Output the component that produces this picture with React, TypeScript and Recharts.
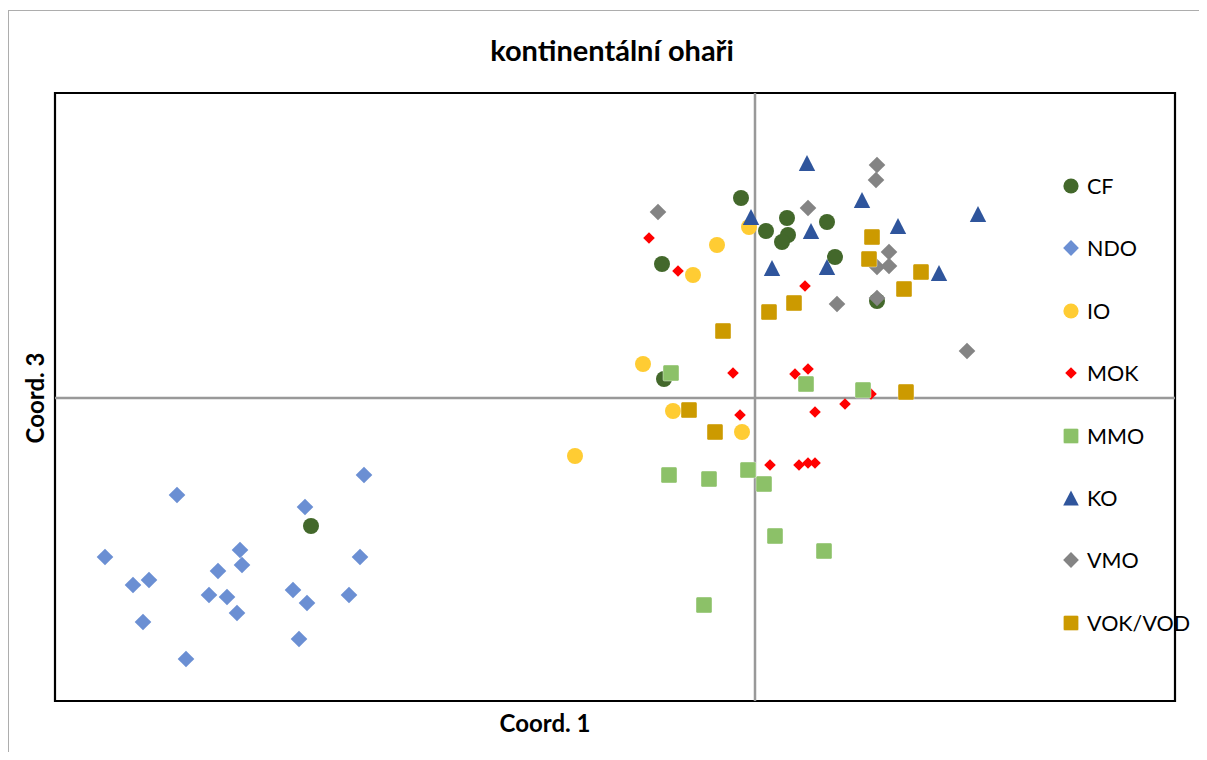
import React from "react";
import {
  ScatterChart,
  Scatter,
  XAxis,
  YAxis,
  ReferenceLine,
  ReferenceArea,
} from "recharts";

type Pt = { x: number; y: number };

const CF: Pt[] = [
  { x: -0.014, y: 0.2 },
  { x: 0.011, y: 0.167 },
  { x: 0.032, y: 0.18 },
  { x: 0.033, y: 0.163 },
  { x: 0.027, y: 0.156 },
  { x: 0.072, y: 0.176 },
  { x: 0.08, y: 0.141 },
  { x: -0.093, y: 0.134 },
  { x: 0.122, y: 0.097 },
  { x: -0.091, y: 0.019 },
  { x: -0.444, y: -0.128 },
];

const NDO: Pt[] = [
  { x: -0.391, y: -0.077 },
  { x: -0.578, y: -0.097 },
  { x: -0.45, y: -0.109 },
  { x: -0.65, y: -0.159 },
  { x: -0.395, y: -0.159 },
  { x: -0.515, y: -0.152 },
  { x: -0.513, y: -0.167 },
  { x: -0.537, y: -0.173 },
  { x: -0.622, y: -0.187 },
  { x: -0.606, y: -0.182 },
  { x: -0.546, y: -0.197 },
  { x: -0.528, y: -0.199 },
  { x: -0.462, y: -0.192 },
  { x: -0.448, y: -0.205 },
  { x: -0.406, y: -0.197 },
  { x: -0.518, y: -0.215 },
  { x: -0.612, y: -0.224 },
  { x: -0.456, y: -0.241 },
  { x: -0.569, y: -0.261 },
];

const IO: Pt[] = [
  { x: -0.062, y: 0.123 },
  { x: -0.038, y: 0.153 },
  { x: -0.006, y: 0.171 },
  { x: -0.112, y: 0.034 },
  { x: -0.082, y: -0.013 },
  { x: -0.013, y: -0.034 },
  { x: -0.18, y: -0.058 },
];

const MOK: Pt[] = [
  { x: -0.106, y: 0.16 },
  { x: -0.077, y: 0.127 },
  { x: 0.05, y: 0.112 },
  { x: -0.022, y: 0.025 },
  { x: 0.04, y: 0.024 },
  { x: 0.053, y: 0.029 },
  { x: 0.116, y: 0.004 },
  { x: 0.09, y: -0.006 },
  { x: 0.06, y: -0.014 },
  { x: -0.015, y: -0.017 },
  { x: 0.015, y: -0.067 },
  { x: 0.044, y: -0.067 },
  { x: 0.053, y: -0.065 },
  { x: 0.06, y: -0.065 },
];

const MMO: Pt[] = [
  { x: -0.084, y: 0.025 },
  { x: 0.051, y: 0.014 },
  { x: 0.108, y: 0.008 },
  { x: -0.086, y: -0.077 },
  { x: -0.046, y: -0.081 },
  { x: -0.007, y: -0.072 },
  { x: 0.009, y: -0.086 },
  { x: 0.02, y: -0.138 },
  { x: 0.069, y: -0.153 },
  { x: -0.051, y: -0.207 },
];

const KO: Pt[] = [
  { x: -0.004, y: 0.181 },
  { x: 0.052, y: 0.235 },
  { x: 0.056, y: 0.167 },
  { x: 0.017, y: 0.13 },
  { x: 0.072, y: 0.131 },
  { x: 0.107, y: 0.198 },
  { x: 0.143, y: 0.172 },
  { x: 0.223, y: 0.184 },
  { x: 0.184, y: 0.125 },
];

const VMO: Pt[] = [
  { x: -0.097, y: 0.186 },
  { x: 0.053, y: 0.19 },
  { x: 0.122, y: 0.233 },
  { x: 0.121, y: 0.218 },
  { x: 0.134, y: 0.146 },
  { x: 0.122, y: 0.131 },
  { x: 0.134, y: 0.132 },
  { x: 0.122, y: 0.1 },
  { x: 0.082, y: 0.094 },
  { x: 0.212, y: 0.047 },
];

const VOK: Pt[] = [
  { x: 0.014, y: 0.086 },
  { x: 0.039, y: 0.095 },
  { x: 0.117, y: 0.161 },
  { x: 0.114, y: 0.139 },
  { x: 0.166, y: 0.126 },
  { x: 0.149, y: 0.109 },
  { x: -0.032, y: 0.067 },
  { x: 0.151, y: 0.006 },
  { x: -0.066, y: -0.012 },
  { x: -0.04, y: -0.034 },
];

const X_DOMAIN: [number, number] = [-0.7, 0.42];
const Y_DOMAIN: [number, number] = [-0.303, 0.305];

const TITLE = "kontinentální ohaři";
const X_TITLE = "Coord. 1";
const Y_TITLE = "Coord. 3";

type Kind = "circle" | "diamond" | "smallDiamond" | "square" | "triangle";

const SERIES: { name: string; data: Pt[]; color: string; kind: Kind }[] = [
  { name: "CF", data: CF, color: "#43682b", kind: "circle" },
  { name: "NDO", data: NDO, color: "#6b8fd3", kind: "diamond" },
  { name: "IO", data: IO, color: "#ffcc33", kind: "circle" },
  { name: "MOK", data: MOK, color: "#ff0000", kind: "smallDiamond" },
  { name: "MMO", data: MMO, color: "#8cc168", kind: "square" },
  { name: "KO", data: KO, color: "#2f559c", kind: "triangle" },
  { name: "VMO", data: VMO, color: "#848484", kind: "diamond" },
  { name: "VOK/VOD", data: VOK, color: "#cc9a00", kind: "square" },
];

function drawMarker(kind: Kind, cx: number, cy: number, color: string, scale = 1) {
  const s = scale;
  switch (kind) {
    case "circle":
      return <circle cx={cx} cy={cy} r={8 * s} fill={color} />;
    case "diamond":
      return (
        <polygon
          points={`${cx},${cy - 8.3 * s} ${cx + 8.3 * s},${cy} ${cx},${cy + 8.3 * s} ${cx - 8.3 * s},${cy}`}
          fill={color}
        />
      );
    case "smallDiamond":
      return (
        <polygon
          points={`${cx},${cy - 5.8 * s} ${cx + 5.8 * s},${cy} ${cx},${cy + 5.8 * s} ${cx - 5.8 * s},${cy}`}
          fill={color}
        />
      );
    case "square":
      return (
        <rect
          x={cx - 8 * s}
          y={cy - 8 * s}
          width={16 * s}
          height={16 * s}
          rx={1.5}
          fill={color}
          stroke="#ffffff"
          strokeOpacity={0.5}
          strokeWidth={0.8}
        />
      );
    case "triangle":
      return (
        <polygon
          points={`${cx},${cy - 8 * s} ${cx + 8.2 * s},${cy + 8 * s} ${cx - 8.2 * s},${cy + 8 * s}`}
          fill={color}
        />
      );
  }
}

const FONT = "Lato, 'Open Sans', sans-serif";

const LegendBox = () => (
  <div
    style={{
      position: "absolute",
      left: 1053,
      top: 178,
      width: 140,
      height: 480,
      fontFamily: FONT,
      fontSize: 21.5,
      color: "#000",
    }}
  >
    {SERIES.map((s, i) => (
      <div
        key={s.name}
        style={{
          position: "absolute",
          left: 0,
          top: i * 62.4 - 15,
          height: 30,
          display: "flex",
          alignItems: "center",
          whiteSpace: "nowrap",
        }}
      >
        <svg width={20} height={20} style={{ marginRight: 6 }}>
          {drawMarker(s.kind, 10, 10, s.color, s.kind === "smallDiamond" ? 1 : 0.95)}
        </svg>
        <span>{s.name}</span>
      </div>
    ))}
  </div>
);

export default function App() {
  const W = 1191;
  const H = 744;
  return (
    <div
      style={{
        position: "relative",
        width: W,
        height: H + 8,
        marginBottom: -8,
        overflow: "hidden",
        background: "#fff",
      }}
    >
      <div
        style={{
          position: "absolute",
          left: 0,
          top: 2,
          width: W + 100,
          height: H + 100,
          border: "1.5px solid #adadad",
          boxSizing: "border-box",
        }}
      />
      <ScatterChart
        width={W}
        height={H}
        margin={{ top: 85, left: 47, right: 24, bottom: 51 }}
        style={{ position: "absolute", left: 0, top: 0 }}
      >
        <XAxis type="number" dataKey="x" domain={X_DOMAIN} hide allowDataOverflow />
        <YAxis type="number" dataKey="y" domain={Y_DOMAIN} hide allowDataOverflow />
        <ReferenceLine x={0} stroke="#999999" strokeWidth={2.5} />
        <ReferenceLine y={0} stroke="#999999" strokeWidth={2.5} />
        <ReferenceArea
          x1={X_DOMAIN[0]}
          x2={X_DOMAIN[1]}
          y1={Y_DOMAIN[0]}
          y2={Y_DOMAIN[1]}
          fill="none"
          fillOpacity={0}
          stroke="#000"
          strokeWidth={2.2}
          ifOverflow="visible"
        />
        {SERIES.map((s) => (
          <Scatter
            key={s.name}
            name={s.name}
            data={s.data}
            isAnimationActive={false}
            shape={(p: any) => drawMarker(s.kind, p.cx, p.cy, s.color)}
          />
        ))}
      </ScatterChart>
      <LegendBox />
      <div
        style={{
          position: "absolute",
          left: 0,
          width: 1208,
          top: 24,
          textAlign: "center",
          fontFamily: FONT,
          fontWeight: 700,
          fontSize: 29,
          color: "#000",
        }}
      >
        {TITLE}
      </div>
      <div
        style={{
          position: "absolute",
          left: 437,
          width: 200,
          top: 700,
          textAlign: "center",
          fontFamily: FONT,
          fontWeight: 700,
          fontSize: 24,
          color: "#000",
        }}
      >
        {X_TITLE}
      </div>
      <div
        style={{
          position: "absolute",
          left: 27,
          top: 390,
          width: 200,
          height: 0,
          fontFamily: FONT,
          fontWeight: 700,
          fontSize: 24,
          color: "#000",
          transform: "translate(-100px, 0) rotate(-90deg)",
          transformOrigin: "100px 0",
          textAlign: "center",
          lineHeight: "0px",
        }}
      >
        {Y_TITLE}
      </div>
    </div>
  );
}
